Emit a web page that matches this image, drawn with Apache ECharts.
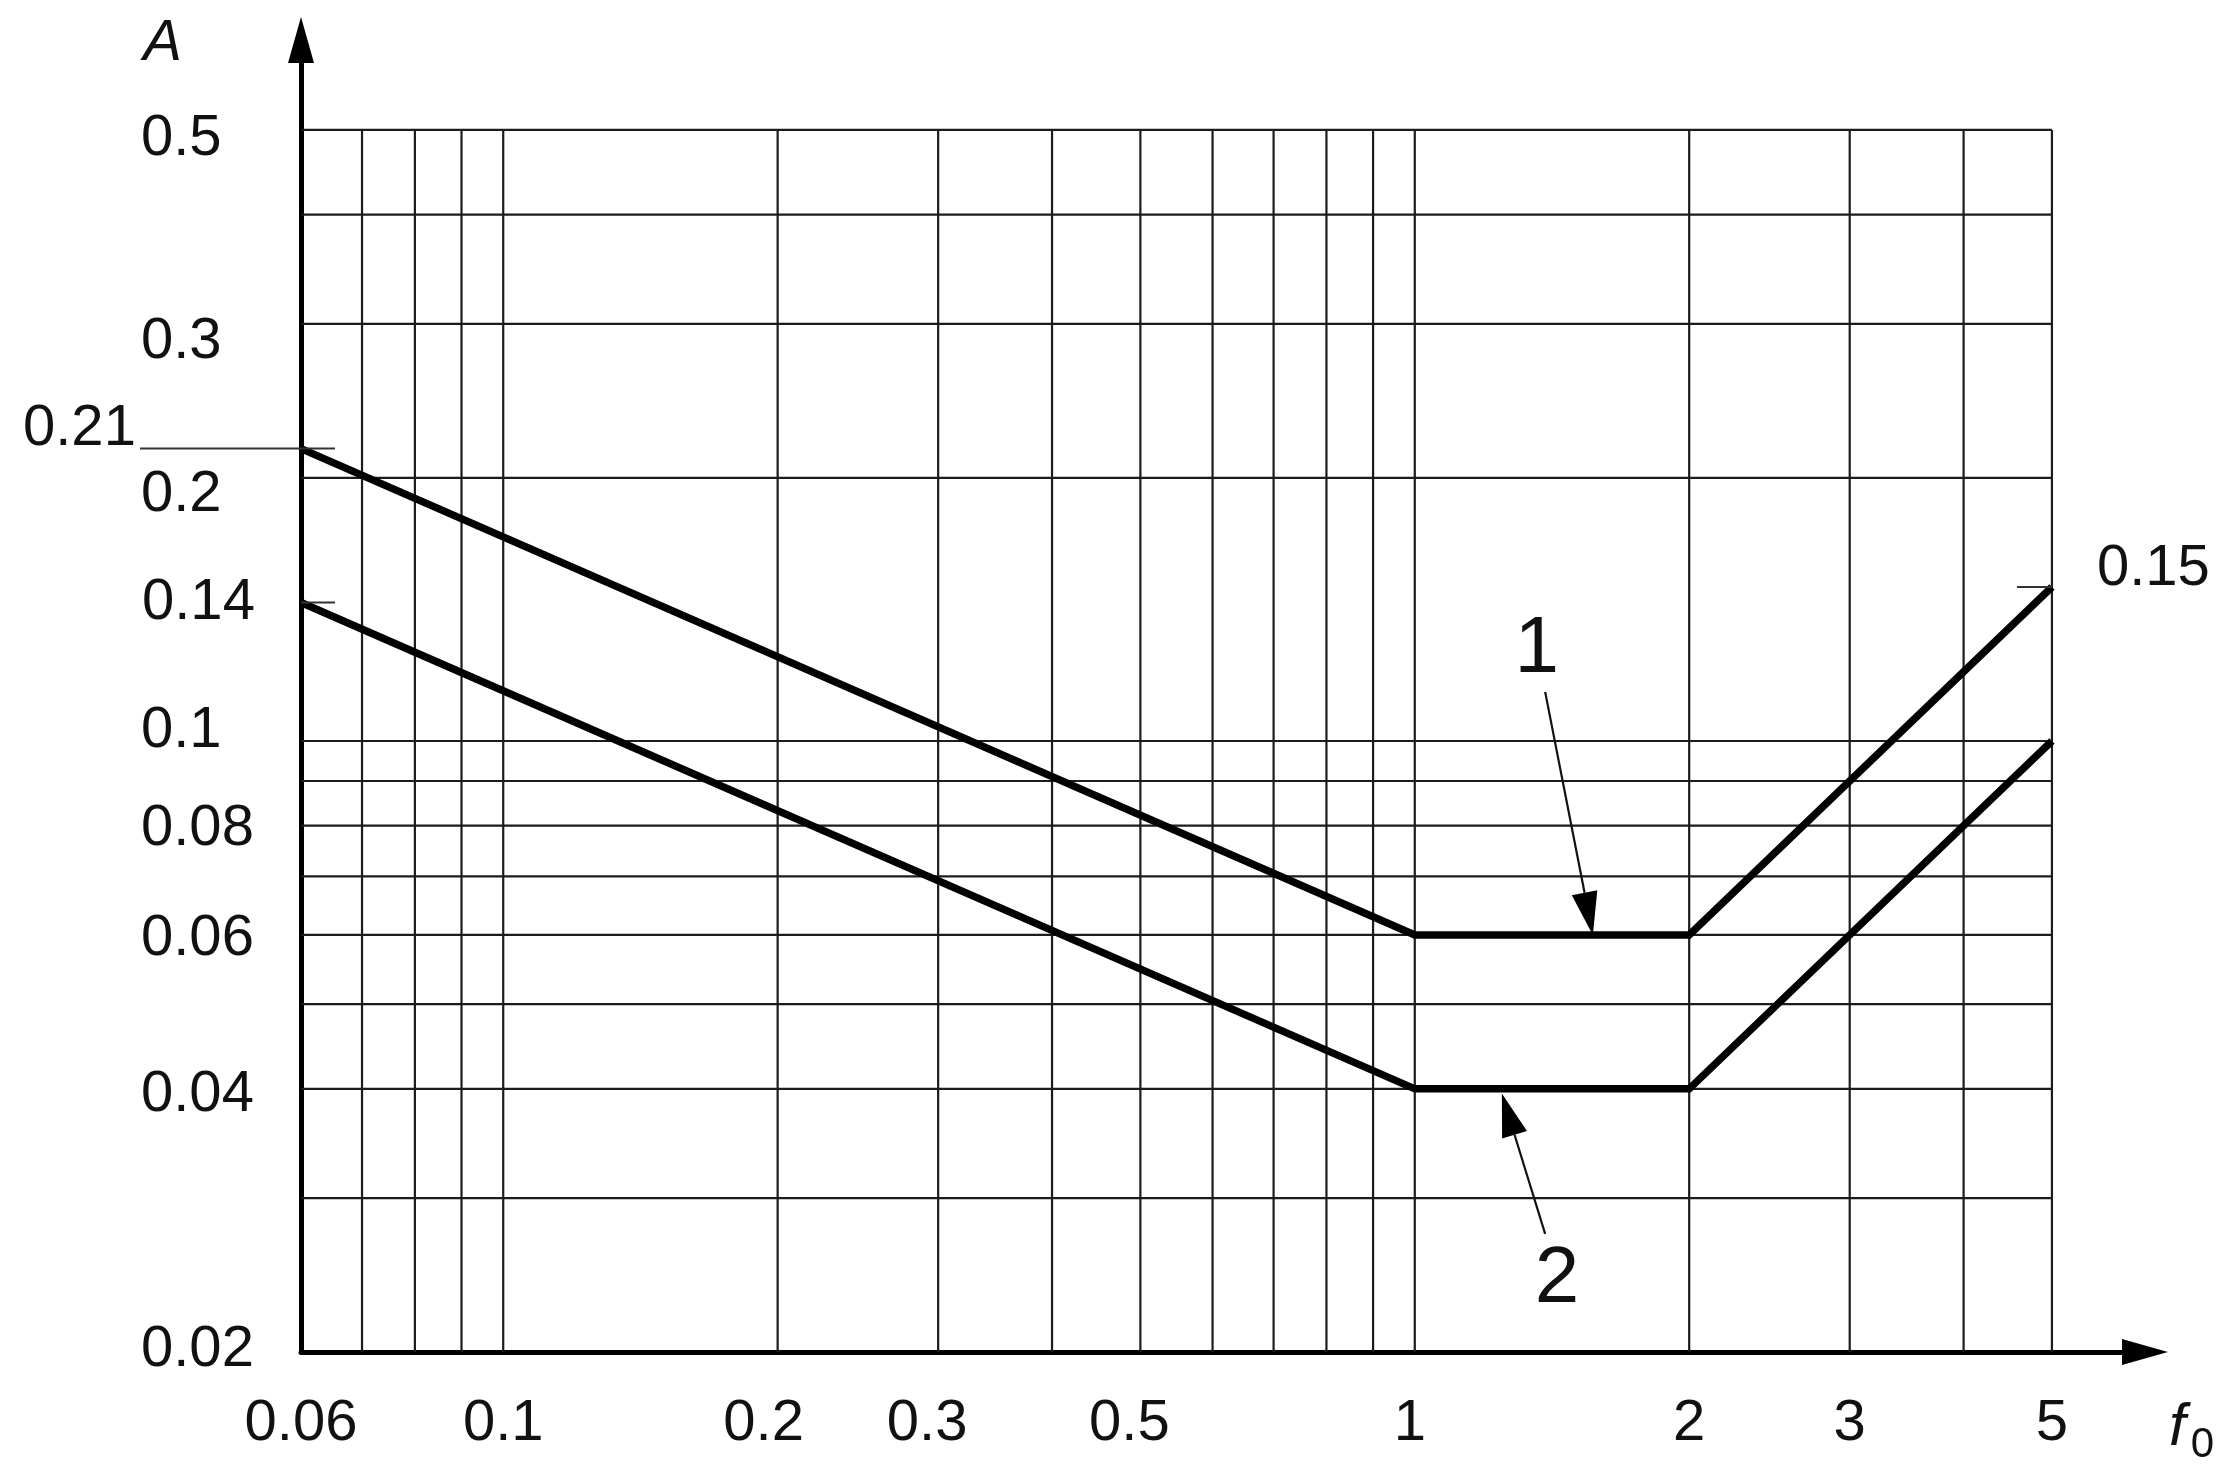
<!DOCTYPE html>
<html>
<head>
<meta charset="utf-8">
<script src="https://cdn.jsdelivr.net/npm/echarts@6/dist/echarts.min.js"></script>
<style>
  html, body { margin: 0; padding: 0; background: #fff; }
  #chart { width: 2237px; height: 1480px; }
</style>
</head>
<body>
<div id="chart"></div>
<script>
// ---------------- data ----------------
const fValues = [0.06, 1, 2, 5];
const curve1 = [0.216, 0.06, 0.06, 0.15];
const curve2 = [0.144, 0.04, 0.04, 0.10];

const xGridValues = [0.07, 0.08, 0.09, 0.1, 0.2, 0.3, 0.4, 0.5, 0.6, 0.7, 0.8, 0.9, 1, 2, 3, 4, 5];
const yGridValues = [0.03, 0.04, 0.05, 0.06, 0.07, 0.08, 0.09, 0.1, 0.2, 0.3, 0.4, 0.5];

const xTickValues = [0.06, 0.1, 0.2, 0.3, 0.5, 1, 2, 3, 5];
const xTickLabels = ['0.06', '0.1', '0.2', '0.3', '0.5', '1', '2', '3', '5'];
const yTickValues = [0.5, 0.3, 0.2, 0.1, 0.08, 0.06, 0.04, 0.02];
const yTickLabels = ['0.5', '0.3', '0.2', '0.1', '0.08', '0.06', '0.04', '0.02'];

const startMarkValues = [0.216, 0.144];
const startMarkLabels = ['0.21', '0.14'];
const endMarkValues = [0.15];
const endMarkLabels = ['0.15'];

const curveNames = ['1', '2'];
const curveLabelF = [1.361, 1.432];
const curveLabelA = [0.127, 0.0242];
const arrowFromF = [1.39, 1.39];
const arrowFromA = [0.1138, 0.0273];
const arrowToF = [1.568, 1.246];
const arrowToA = [0.06, 0.0395];

// axis extents
const X_MIN = 0.06, X_END = 5, X_AXIS_MAX = 6.325;
const Y_MIN = 0.02, Y_END = 0.5, Y_AXIS_MAX = 0.6337;

// ---------------- styles ----------------
const FONT = '"Liberation Sans", Arial, Helvetica, sans-serif';
const TXT = '#111';
const GRID_COLOR = '#1c1c1c';
const yLabelDy = { '0.5': 9, '0.3': 18, '0.2': 17, '0.1': -10, '0.08': 3, '0.06': 4, '0.04': 6, '0.02': -2 };
const xLabelDx = { '0.2': -14, '0.3': -11, '0.5': -11, '1': -5 };
const startMarkStyle = [
  { lineFrom: -161, lineTo: 34, textDx: -278, textDy: -20 },
  { lineFrom: 0, lineTo: 34, textDx: -159, textDy: 0 }
];

const chart = echarts.init(document.getElementById('chart'), null, { renderer: 'canvas' });

function textEl(x, y, text, size, align, italic) {
  return {
    type: 'text', x: x, y: y, silent: true,
    style: {
      text: text, fill: TXT, fontSize: size, fontFamily: FONT,
      fontStyle: italic ? 'italic' : 'normal',
      align: align || 'center', verticalAlign: 'middle'
    }
  };
}

const option = {
  backgroundColor: '#fff',
  animation: false,
  grid: { left: 301, right: 92, top: 40, bottom: 128, containLabel: false },
  xAxis: {
    type: 'log', logBase: 10, min: X_MIN, max: X_AXIS_MAX,
    axisLine: { show: true, lineStyle: { color: '#000', width: 5 }, symbol: ['none', 'triangle'], symbolSize: [26, 46] },
    axisTick: { show: false }, axisLabel: { show: false }, splitLine: { show: false }, minorSplitLine: { show: false },
    name: '{f|f}{s|0}', nameLocation: 'end', nameGap: 24,
    nameTextStyle: {
      align: 'left', verticalAlign: 'middle', padding: [152, 0, 0, 0],
      rich: {
        f: { fontSize: 60, fontStyle: 'italic', fontFamily: FONT, color: TXT },
        s: { fontSize: 42, fontFamily: FONT, color: TXT, padding: [34, 0, 0, 5] }
      }
    }
  },
  yAxis: {
    type: 'log', logBase: 10, min: Y_MIN, max: Y_AXIS_MAX,
    axisLine: { show: true, lineStyle: { color: '#000', width: 5 }, symbol: ['none', 'triangle'], symbolSize: [26, 46] },
    axisTick: { show: false }, axisLabel: { show: false }, splitLine: { show: false }, minorSplitLine: { show: false },
    name: 'A', nameLocation: 'end', nameGap: -4,
    nameTextStyle: {
      fontSize: 58, fontStyle: 'italic', fontFamily: FONT, color: TXT,
      align: 'right', verticalAlign: 'middle', padding: [0, 119, 0, 0]
    }
  },
  series: [
    // vertical grid lines
    {
      type: 'custom', coordinateSystem: 'cartesian2d', silent: true, z: 1, clip: false,
      data: xGridValues.map(v => [v, Y_MIN]), encode: { x: 0, y: 1 },
      renderItem: function (params, api) {
        const v = api.value(0);
        const a = api.coord([v, Y_MIN]), b = api.coord([v, Y_END]);
        return { type: 'line', shape: { x1: a[0], y1: a[1], x2: b[0], y2: b[1] }, style: { stroke: GRID_COLOR, lineWidth: 2.2 } };
      }
    },
    // horizontal grid lines
    {
      type: 'custom', coordinateSystem: 'cartesian2d', silent: true, z: 1, clip: false,
      data: yGridValues.map(v => [X_MIN, v]), encode: { x: 0, y: 1 },
      renderItem: function (params, api) {
        const v = api.value(1);
        const a = api.coord([X_MIN, v]), b = api.coord([X_END, v]);
        return { type: 'line', shape: { x1: a[0], y1: a[1], x2: b[0], y2: b[1] }, style: { stroke: GRID_COLOR, lineWidth: 2.2 } };
      }
    },
    // curves
    {
      name: '1', type: 'line', clip: false, z: 3, symbol: 'none', silent: true,
      data: fValues.map((f, i) => [f, curve1[i]]),
      lineStyle: { color: '#000', width: 7.5, join: 'miter' }
    },
    {
      name: '2', type: 'line', clip: false, z: 3, symbol: 'none', silent: true,
      data: fValues.map((f, i) => [f, curve2[i]]),
      lineStyle: { color: '#000', width: 7.5, join: 'miter' }
    },
    // y tick labels
    {
      type: 'custom', coordinateSystem: 'cartesian2d', silent: true, z: 5, clip: false,
      data: yTickValues.map(v => [X_MIN, v]), encode: { x: 0, y: 1 },
      renderItem: function (params, api) {
        const i = params.dataIndex;
        const p = api.coord([X_MIN, api.value(1)]);
        const lab = yTickLabels[i];
        return textEl(p[0] - 160, p[1] + (yLabelDy[lab] || 0), lab, 58, 'left');
      }
    },
    // x tick labels
    {
      type: 'custom', coordinateSystem: 'cartesian2d', silent: true, z: 5, clip: false,
      data: xTickValues.map(v => [v, Y_MIN]), encode: { x: 0, y: 1 },
      renderItem: function (params, api) {
        const i = params.dataIndex;
        const p = api.coord([api.value(0), Y_MIN]);
        const lab = xTickLabels[i];
        return textEl(p[0] + (xLabelDx[lab] || 0), p[1] + 72, lab, 58, 'center');
      }
    },
    // start marks (0.21, 0.14)
    {
      type: 'custom', coordinateSystem: 'cartesian2d', silent: true, z: 5, clip: false,
      data: startMarkValues.map(v => [X_MIN, v]), encode: { x: 0, y: 1 },
      renderItem: function (params, api) {
        const i = params.dataIndex;
        const s = startMarkStyle[i];
        const p = api.coord([X_MIN, api.value(1)]);
        return {
          type: 'group', children: [
            { type: 'line', shape: { x1: p[0] + s.lineFrom, y1: p[1], x2: p[0] + s.lineTo, y2: p[1] }, style: { stroke: '#333', lineWidth: 2 } },
            textEl(p[0] + s.textDx, p[1] + s.textDy, startMarkLabels[i], 58, 'left')
          ]
        };
      }
    },
    // end mark (0.15)
    {
      type: 'custom', coordinateSystem: 'cartesian2d', silent: true, z: 5, clip: false,
      data: endMarkValues.map(v => [X_END, v]), encode: { x: 0, y: 1 },
      renderItem: function (params, api) {
        const i = params.dataIndex;
        const p = api.coord([X_END, api.value(1)]);
        return {
          type: 'group', children: [
            { type: 'line', shape: { x1: p[0] - 35, y1: p[1], x2: p[0], y2: p[1] }, style: { stroke: '#333', lineWidth: 2 } },
            textEl(p[0] + 45, p[1] - 18, endMarkLabels[i], 58, 'left')
          ]
        };
      }
    },
    // curve callouts: labels and arrows
    {
      type: 'custom', coordinateSystem: 'cartesian2d', silent: true, z: 6, clip: false,
      data: curveNames.map((n, i) => [curveLabelF[i], curveLabelA[i]]), encode: { x: 0, y: 1 },
      renderItem: function (params, api) {
        const i = params.dataIndex;
        const L = api.coord([curveLabelF[i], curveLabelA[i]]);
        const a = api.coord([arrowFromF[i], arrowFromA[i]]);
        const b = api.coord([arrowToF[i], arrowToA[i]]);
        const dx = b[0] - a[0], dy = b[1] - a[1];
        const len = Math.sqrt(dx * dx + dy * dy);
        const ux = dx / len, uy = dy / len;
        const headL = 43, headW = 13;
        const bx = b[0] - ux * headL, by = b[1] - uy * headL;
        return {
          type: 'group', children: [
            textEl(L[0], L[1], curveNames[i], 80, 'center'),
            { type: 'line', shape: { x1: a[0], y1: a[1], x2: bx, y2: by }, style: { stroke: '#111', lineWidth: 2.2 } },
            { type: 'polygon', shape: { points: [[b[0], b[1]], [bx - uy * headW, by + ux * headW], [bx + uy * headW, by - ux * headW]] }, style: { fill: '#000' } }
          ]
        };
      }
    }
  ]
};

chart.setOption(option);
</script>
</body>
</html>
